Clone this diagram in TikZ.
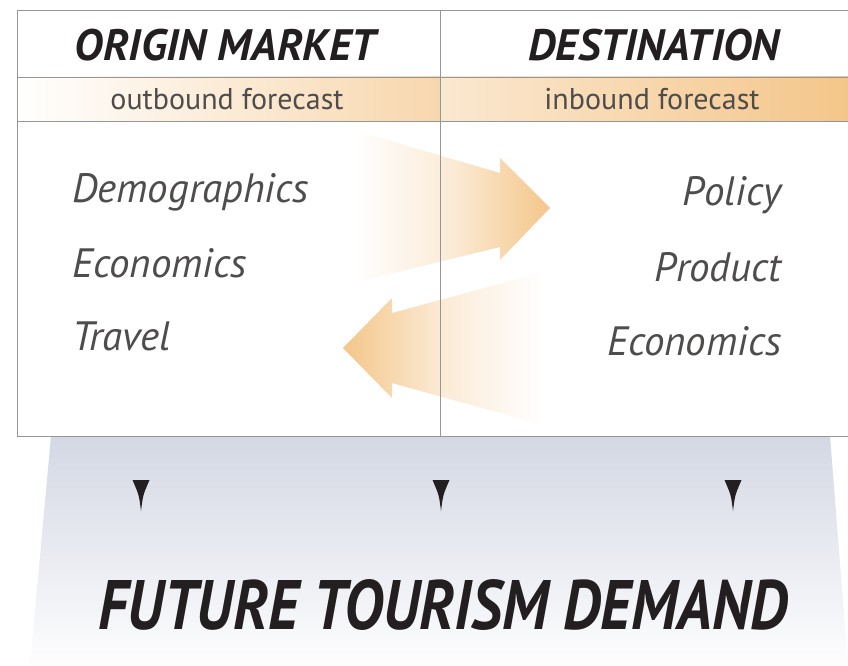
\documentclass[tikz,border=0pt]{standalone}
\usepackage{fontspec}
\setmainfont{PT Sans}
\usetikzlibrary{positioning}
\definecolor{peach}{RGB}{244,198,138}
\definecolor{mist}{RGB}{212,216,228}
\definecolor{rulegray}{RGB}{150,150,150}
\definecolor{ink}{RGB}{35,31,32}
\tikzset{
  headtext/.style={font=\fontsize{44}{44}\selectfont\bfseries\itshape, text=ink},
  bandtext/.style={font=\fontsize{30}{30}\selectfont, text=ink!80},
  factor/.style={font=\fontsize{41}{41}\selectfont\itshape, text=ink!80, inner sep=0pt},
}

\begin{document}
\begin{tikzpicture}[x=1pt,y=1pt]
  \useasboundingbox (0,0) rectangle (848,665);
  % demand funnel under the table
  \shade[top color=mist, bottom color=white!96!mist] (51,229) -- (830,229) -- (848,0) -- (30,0) -- cycle;
  % forecast bands
  \shade[left color=white, right color=peach!70] (17,544) rectangle (440,588);
  \shade[left color=peach!40, right color=peach] (440,544) rectangle (848,588);
  % the two flows
  \shade[left color=white, right color=peach, middle color=peach!35]
    (353,535) -- (500,492) -- (500,507) -- (550,457) -- (500,405) -- (500,418) -- (353,382) -- cycle;
  \shade[left color=peach, right color=white, middle color=peach!35]
    (543,393) -- (392,352) -- (392,367) -- (343,317) -- (392,267) -- (392,282) -- (543,240) -- cycle;
  % table rules
  \draw[rulegray, line width=0.8] (848,655) -- (17,655) -- (17,229) -- (848,229);
  \draw[rulegray, line width=0.8] (17,588) -- (848,588) (17,544) -- (848,544);
  \draw[rulegray, line width=0.8] (440,655) -- (440,229);

  \node[headtext] (origin) at (225,620) {ORIGIN MARKET};
  \node[headtext] (dest) at (654,620) {DESTINATION};
  \node[bandtext] (outbound) at (227,566) {outbound forecast};
  \node[bandtext] (inbound) at (652,566) {inbound forecast};

  \node[factor, anchor=base west] (demog) at (72,462) {Demographics};
  \node[factor, anchor=base west] (econ) at (72,388) {Economics};
  \node[factor, anchor=base west] (travel) at (72,315) {Travel};
  \node[factor, anchor=base east] (policy) at (782,459) {Policy};
  \node[factor, anchor=base east] (product) at (782,384) {Product};
  \node[factor, anchor=base east] (econd) at (782,310) {Economics};

  % pointers down to demand
  \foreach \x in {141,441,733}
    \fill[ink] (\x-8.5,185) -- (\x+8.5,185) .. controls (\x+2,170) .. (\x,154) .. controls (\x-2,170) .. (\x-8.5,185) -- cycle;
  \node[headtext, font=\fontsize{70}{70}\selectfont\bfseries\itshape] (demand) at (443,60)
    {\scalebox{0.86}[1]{FUTURE TOURISM DEMAND}};
\end{tikzpicture}
\end{document}
